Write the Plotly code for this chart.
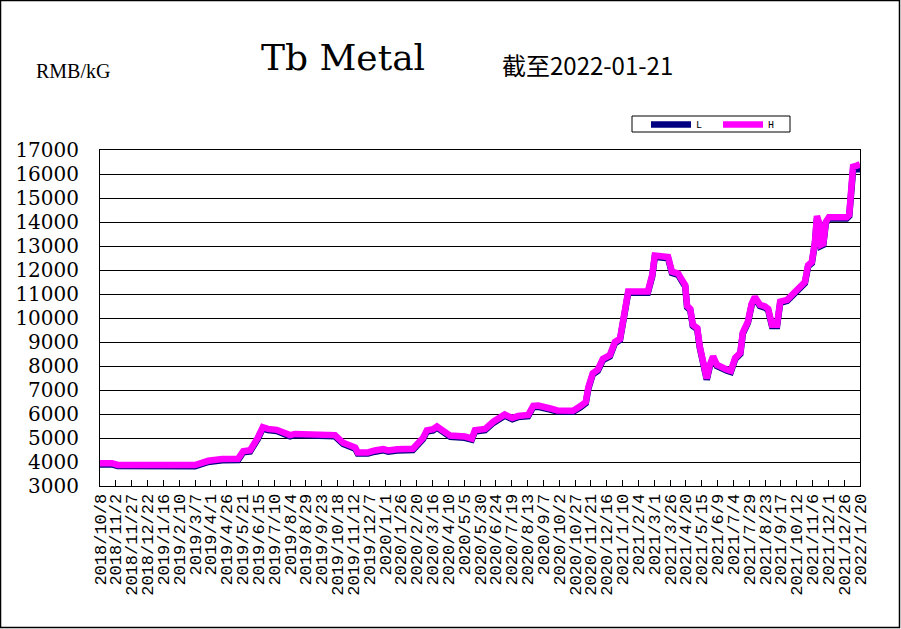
import plotly.graph_objects as go
from datetime import datetime

dates = [
"2018-10-08","2018-10-27","2018-11-05","2018-12-10","2019-01-19","2019-03-07","2019-03-28","2019-04-19","2019-05-14","2019-05-22",
"2019-06-02","2019-06-10","2019-06-14","2019-06-22","2019-06-30","2019-07-14","2019-07-27","2019-08-04","2019-08-12","2019-10-06",
"2019-10-14","2019-10-27","2019-11-07","2019-11-15","2019-11-19","2019-12-05","2019-12-16","2019-12-29","2020-01-06","2020-01-20",
"2020-02-14","2020-03-01","2020-03-07","2020-03-17","2020-03-23","2020-04-02","2020-04-13","2020-05-06","2020-05-14","2020-05-17",
"2020-05-22","2020-06-07","2020-06-20","2020-07-01","2020-07-08","2020-07-20","2020-07-29","2020-08-14","2020-08-22","2020-08-30",
"2020-09-06","2020-09-18","2020-09-29","2020-10-24","2020-11-04","2020-11-13","2020-11-17","2020-11-24","2020-12-02","2020-12-10",
"2020-12-21","2020-12-29","2021-01-06","2021-01-14","2021-01-19","2021-02-19","2021-02-26","2021-03-02","2021-03-10","2021-03-23",
"2021-03-29","2021-04-08","2021-04-14","2021-04-19","2021-04-22","2021-04-27","2021-05-01","2021-05-08","2021-05-12","2021-05-20",
"2021-05-23","2021-05-28","2021-06-02","2021-06-08","2021-06-16","2021-06-24","2021-06-30","2021-07-07","2021-07-15","2021-07-19",
"2021-07-27","2021-08-02","2021-08-07","2021-08-15","2021-08-23","2021-08-28","2021-09-03","2021-09-11","2021-09-16","2021-09-27",
"2021-10-06","2021-10-17","2021-10-25","2021-10-30","2021-11-05","2021-11-10","2021-11-13","2021-11-16","2021-11-19","2021-11-23",
"2021-11-27","2021-12-02","2021-12-30","2022-01-03","2022-01-06","2022-01-09","2022-01-15","2022-01-20"]

H_values = [
3950,3950,3880,3880,3880,3870,4050,4120,4130,4450,
4490,4800,5000,5450,5380,5340,5200,5120,5170,5150,
5120,4800,4640,4600,4400,4400,4480,4540,4480,4530,
4550,5000,5320,5370,5480,5260,5100,5060,5000,4980,
5320,5380,5680,5840,5980,5830,5920,5960,6340,6350,
6280,6230,6150,6140,6320,6500,7100,7700,7850,8300,
8450,9000,9130,10200,11100,11100,11800,12600,12560,12540,
11930,11850,11580,11370,10500,10380,9720,9580,8820,7600,
7480,8050,8400,8050,7930,7850,7800,8340,8550,9400,
9850,10600,10880,10550,10480,10380,9720,9720,10680,10760,
11000,11300,11500,12200,12340,13200,14250,14000,13050,13100,
14000,14200,14200,14300,15300,16300,16350,16400]

L_values = [
3900,3900,3830,3830,3830,3820,4000,4070,4080,4400,
4440,4750,4950,5400,5330,5290,5150,5070,5120,5100,
5070,4750,4590,4550,4350,4350,4430,4490,4430,4480,
4500,4950,5270,5320,5430,5210,5050,5010,4950,4930,
5270,5330,5630,5790,5930,5780,5870,5910,6290,6300,
6230,6180,6100,6090,6270,6450,7050,7650,7800,8250,
8400,8950,9080,10150,11050,11050,11750,12550,12510,12490,
11880,11800,11530,11320,10450,10330,9670,9530,8770,7550,
7430,8000,8350,8000,7880,7800,7750,8290,8500,9350,
9800,10550,10830,10500,10430,10330,9670,9670,10630,10710,
10950,11250,11450,12150,12290,13150,14150,13950,13000,13050,
13950,14150,14150,14250,15200,16150,16200,16200]

tick_labels = [
"2018/10/8","2018/11/2","2018/11/27","2018/12/22","2019/1/16","2019/2/10","2019/3/7","2019/4/1",
"2019/4/26","2019/5/21","2019/6/15","2019/7/10","2019/8/4","2019/8/29","2019/9/23","2019/10/18",
"2019/11/12","2019/12/7","2020/1/1","2020/1/26","2020/2/20","2020/3/16","2020/4/10","2020/5/5",
"2020/5/30","2020/6/24","2020/7/19","2020/8/13","2020/9/7","2020/10/2","2020/10/27","2020/11/21",
"2020/12/16","2021/1/10","2021/2/4","2021/3/1","2021/3/26","2021/4/20","2021/5/15","2021/6/9",
"2021/7/4","2021/7/29","2021/8/23","2021/9/17","2021/10/12","2021/11/6","2021/12/1","2021/12/26",
"2022/1/20"]

tick_vals = [datetime.strptime(t, "%Y/%m/%d").strftime("%Y-%m-%d") for t in tick_labels]

W, H = 901, 629
ML, MR, MT, MB = 100, 41, 150, 143
PW, PH = W - ML - MR, H - MT - MB

def px(x):
    return (x - ML) / PW

def py(y):
    return (H - MB - y) / PH

fig = go.Figure()
fig.add_trace(go.Scatter(x=dates, y=L_values, name="L", mode="lines",
                         line=dict(color="#000080", width=6.5)))
fig.add_trace(go.Scatter(x=dates, y=H_values, name="H", mode="lines",
                         line=dict(color="#FF00FF", width=6.5)))

fig.update_layout(
    width=W, height=H,
    margin=dict(l=ML, r=MR, t=MT, b=MB, autoexpand=False),
    paper_bgcolor="white", plot_bgcolor="white",
    showlegend=True,
    legend=dict(orientation="h", x=px(646), y=py(110), xanchor="left", yanchor="top",
                borderwidth=0, bgcolor="rgba(0,0,0,0)",
                font=dict(family="Liberation Mono", size=10, color="black"),
                itemwidth=40, entrywidth=17, tracegroupgap=0),
    xaxis=dict(type="date", range=["2018-10-08", "2022-01-20"],
               tickmode="array", tickvals=tick_vals, ticktext=tick_labels,
               tickangle=-90, ticks="inside", ticklen=6, tickcolor="black",
               showgrid=False, showline=True, linecolor="black", linewidth=1, mirror=True,
               tickfont=dict(family="Liberation Mono", size=17, color="black"),
               automargin=False, zeroline=False),
    yaxis=dict(range=[3000, 17000], dtick=1000, tick0=3000, tickformat="d",
               showgrid=True, gridcolor="black", gridwidth=1,
               showline=True, linecolor="black", linewidth=1, mirror=True,
               ticks="", ticklabelstandoff=16,
               tickfont=dict(family="DejaVu Serif", size=20, color="black"),
               automargin=False, zeroline=False),
)

fig.add_annotation(text="Tb Metal", x=px(343), y=py(57), xref="paper", yref="paper",
                   showarrow=False, xanchor="center", yanchor="middle",
                   font=dict(family="DejaVu Serif", size=36, color="black"))
fig.add_annotation(text="截至2022-01-21", x=px(587), y=py(64), xref="paper", yref="paper",
                   showarrow=False, xanchor="center", yanchor="middle",
                   font=dict(family="Noto Sans CJK SC", size=24, color="black"))
fig.add_annotation(text="RMB/kG", x=px(73), y=py(71), xref="paper", yref="paper",
                   showarrow=False, xanchor="center", yanchor="middle",
                   font=dict(family="Liberation Serif", size=20, color="black"))

# legend frame
fig.add_shape(type="rect", xref="paper", yref="paper",
              x0=px(632), x1=px(790), y0=py(132), y1=py(116),
              line=dict(color="black", width=1), fillcolor="white", layer="above")
# outer frame
fig.add_shape(type="rect", xref="paper", yref="paper",
              x0=px(0.5), x1=px(W - 1.5), y0=py(H - 1.5), y1=py(0.5),
              line=dict(color="black", width=1.5), fillcolor="rgba(0,0,0,0)", layer="above")

fig.write_html("out.html", config={"displayModeBar": False},
               post_script="document.body.style.margin='0';document.body.style.overflow='hidden';")
